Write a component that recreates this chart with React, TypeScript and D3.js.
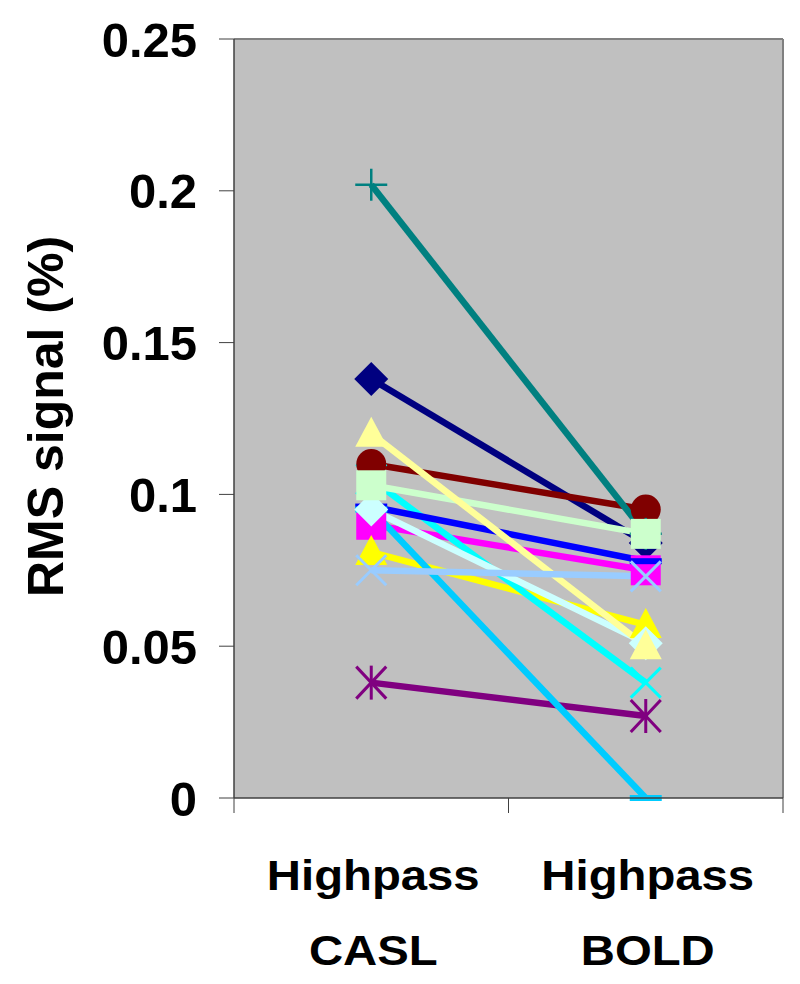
import React from "react";
import * as d3 from "d3";

const categories = ["Highpass CASL", "Highpass BOLD"];
const yTicks = [0, 0.05, 0.1, 0.15, 0.2, 0.25];
const yTickLabels = ["0", "0.05", "0.1", "0.15", "0.2", "0.25"];

const seriesNames = ["s1", "s2", "s3", "s4", "s5", "s6", "s7", "s8", "s9", "s10", "s11", "s12", "s13"];
const seriesColors = ["#000080", "#FF00FF", "#FFFF00", "#00FFFF", "#800080", "#800000", "#008080", "#0000FF", "#00CCFF", "#CCFFFF", "#CCFFCC", "#FFFF99", "#99CCFF"];
const seriesMarkers = ["diamond", "square", "triangle", "x", "star", "circle", "plus", "dot", "dash", "diamond", "square", "triangle", "x"];
const caslValues = [0.138, 0.09, 0.081, 0.105, 0.038, 0.11, 0.202, 0.096, 0.095, 0.095, 0.103, 0.12, 0.075];
const boldValues = [0.084, 0.075, 0.057, 0.038, 0.027, 0.095, 0.087, 0.078, 0.0, 0.051, 0.087, 0.05, 0.073];

const W = 800;
const H = 984;
const plot = { left: 234, right: 783, top: 39, bottom: 798 };

function Marker({ type, x, y, color }: { type: string; x: number; y: number; color: string }) {
  const s = 16;
  switch (type) {
    case "diamond":
      return <path d={`M${x},${y - s - 1}L${x + s + 1},${y}L${x},${y + s + 1}L${x - s - 1},${y}Z`} fill={color} />;
    case "square":
      return <rect x={x - 15} y={y - 15} width={30} height={30} fill={color} />;
    case "triangle":
      return <path d={`M${x},${y - 17}L${x + 16},${y + 13}L${x - 16},${y + 13}Z`} fill={color} />;
    case "circle":
      return <circle cx={x} cy={y} r={15} fill={color} />;
    case "x":
      return (
        <g stroke={color} strokeWidth={3}>
          <line x1={x - 15} y1={y - 15} x2={x + 15} y2={y + 15} />
          <line x1={x - 15} y1={y + 15} x2={x + 15} y2={y - 15} />
        </g>
      );
    case "star":
      return (
        <g stroke={color} strokeWidth={3}>
          <line x1={x - 15} y1={y - 16} x2={x + 15} y2={y + 16} />
          <line x1={x - 15} y1={y + 16} x2={x + 15} y2={y - 16} />
          <line x1={x} y1={y - 17} x2={x} y2={y + 17} />
        </g>
      );
    case "plus":
      return (
        <g stroke={color} strokeWidth={2.5}>
          <line x1={x - 16} y1={y} x2={x + 16} y2={y} />
          <line x1={x} y1={y - 16} x2={x} y2={y + 16} />
        </g>
      );
    case "dot":
      return <rect x={x - 16} y={y - 3} width={32} height={6} fill={color} />;
    case "dash":
      return <rect x={x - 16} y={y - 3} width={32} height={6} fill={color} />;
    default:
      return null;
  }
}

export default function App() {
  const x = d3.scaleBand<string>().domain(categories).range([plot.left, plot.right]).padding(0);
  const y = d3.scaleLinear().domain([0, 0.25]).range([plot.bottom, plot.top]);
  const cx = (c: string) => (x(c) as number) + x.bandwidth() / 2;
  const line = d3
    .line<[string, number]>()
    .x((d) => cx(d[0]))
    .y((d) => y(d[1]));

  const series = seriesNames.map((n, i) => ({
    name: n,
    color: seriesColors[i],
    marker: seriesMarkers[i],
    pts: [
      [categories[0], caslValues[i]],
      [categories[1], boldValues[i]],
    ] as [string, number][],
  }));

  const xTickPos = [plot.left, ...categories.slice(1).map((c) => x(c) as number), plot.right];
  const font = "'Liberation Sans', Arial, sans-serif";

  return (
    <svg width={W} height={H} style={{ display: "block", position: "absolute", left: 0, top: 0 }}>
      <rect x={0} y={0} width={W} height={H} fill="#fff" />
      <rect x={plot.left} y={plot.top} width={plot.right - plot.left} height={plot.bottom - plot.top} fill="#C0C0C0" />
      <line x1={plot.left} y1={plot.top} x2={plot.right} y2={plot.top} stroke="#808080" strokeWidth={2} />
      <line x1={plot.right} y1={plot.top} x2={plot.right} y2={plot.bottom} stroke="#808080" strokeWidth={2} />
      {series.map((s) => (
        <path key={s.name + "l"} d={line(s.pts) || ""} fill="none" stroke={s.color} strokeWidth={6.5} />
      ))}
      {series.map((s) => (
        <g key={s.name + "m"}>
          {s.pts.map((p, j) => (
            <Marker key={j} type={s.marker} x={cx(p[0])} y={y(p[1])} color={s.color} />
          ))}
        </g>
      ))}
      <line x1={plot.left} y1={plot.top} x2={plot.left} y2={plot.bottom} stroke="#404040" strokeWidth={1.5} />
      <line x1={plot.left} y1={plot.bottom} x2={plot.right} y2={plot.bottom} stroke="#404040" strokeWidth={1.5} />
      {yTicks.map((t, i) => (
        <g key={"yt" + i}>
          <line x1={plot.left - 15} y1={y(t)} x2={plot.left} y2={y(t)} stroke="#404040" strokeWidth={1} />
          <text x={197} y={y(t)} dy="0.36em" textAnchor="end" fontFamily={font} fontWeight="bold" fontSize={49} fill="#000">
            {yTickLabels[i]}
          </text>
        </g>
      ))}
      {xTickPos.map((p, i) => (
        <line key={"xt" + i} x1={p} y1={plot.bottom} x2={p} y2={plot.bottom + 15} stroke="#404040" strokeWidth={1} />
      ))}
      {categories.map((c) => {
        const parts = c.split(" ");
        const px = cx(c) + 2;
        return (
          <g key={c} transform={`translate(${px},0) scale(1.1,1)`}>
            <text x={0} y={890} textAnchor="middle" fontFamily={font} fontWeight="bold" fontSize={43}>
              {parts[0]}
            </text>
            <text x={0} y={965} textAnchor="middle" fontFamily={font} fontWeight="bold" fontSize={43}>
              {parts[1]}
            </text>
          </g>
        );
      })}
      <text
        transform={`translate(63,${(plot.top + plot.bottom) / 2 - 2}) rotate(-90)`}
        textAnchor="middle"
        fontFamily={font}
        fontWeight="bold"
        fontSize={50}
      >
        RMS signal (%)
      </text>
    </svg>
  );
}
